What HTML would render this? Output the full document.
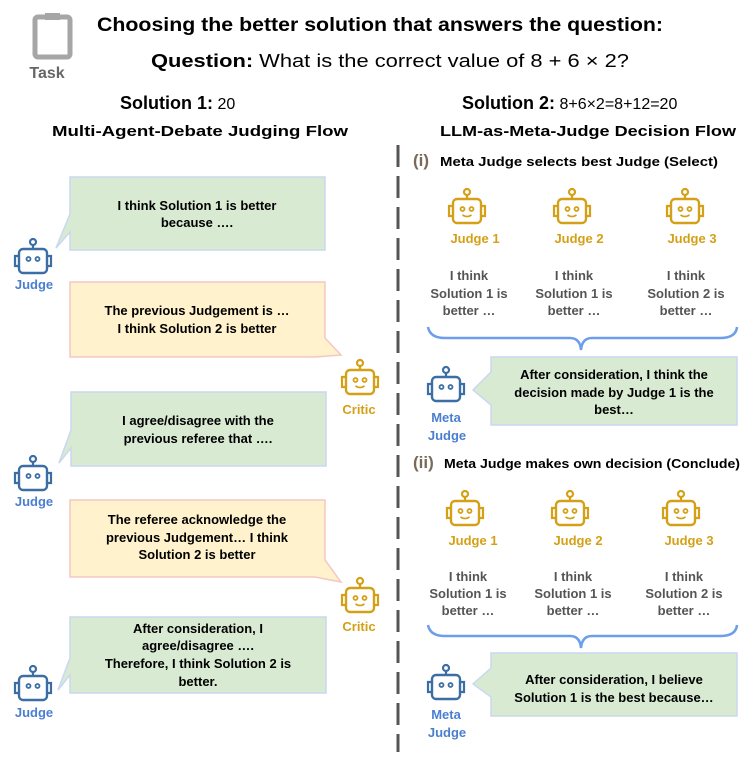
<!DOCTYPE html>
<html><head><meta charset="utf-8"><style>
html,body{margin:0;padding:0;background:#fff}
svg text{font-family:"Liberation Sans",sans-serif;font-weight:bold}
</style></head><body>
<svg width="753" height="754" viewBox="0 0 753 754" xmlns="http://www.w3.org/2000/svg">
<defs>
<g id="bot">
<circle cx="0" cy="-18" r="3" fill="none" stroke-width="2.2"/>
<line x1="0" y1="-15" x2="0" y2="-11" stroke-width="2.2"/>
<rect x="-14" y="-11" width="28" height="24" rx="4" fill="none" stroke-width="2.4"/>
<path d="M-14 -4 h-4 v10 h4 M14 -4 h4 v10 h-4" fill="none" stroke-width="2.2"/>
<circle cx="-4.5" cy="-1" r="2" fill="none" stroke-width="1.8"/>
<circle cx="4.5" cy="-1" r="2" fill="none" stroke-width="1.8"/>
</g>
<g id="botsmile">
<use href="#bot"/>
<path d="M-4.5 5 q4.5 3 9 0" fill="none" stroke-width="1.8"/>
</g>
</defs>
<!-- Task icon -->
<rect x="35" y="17" width="35" height="40" rx="3" fill="none" stroke="#a6a6a6" stroke-width="5"/>
<rect x="45" y="13" width="15" height="7" fill="#a6a6a6"/>
<text x="47" y="78" font-size="16" fill="#666" text-anchor="middle">Task</text>
<text x="97" y="31" font-size="19" fill="#000" textLength="566" lengthAdjust="spacingAndGlyphs">Choosing the better solution that answers the question:</text>
<text x="151" y="67" font-size="18" fill="#000" textLength="478" lengthAdjust="spacingAndGlyphs">Question:<tspan font-weight="normal"> What is the correct value of 8 + 6 × 2?</tspan></text>
<text x="120" y="109" font-size="18">Solution 1:<tspan font-weight="normal" font-size="16"> 20</tspan></text>
<text x="52" y="136" font-size="15" textLength="296" lengthAdjust="spacingAndGlyphs">Multi-Agent-Debate Judging Flow</text>
<text x="462" y="109" font-size="18">Solution 2:<tspan font-weight="normal" font-size="16"> 8+6×2=8+12=20</tspan></text>
<text x="440" y="136" font-size="15" textLength="296" lengthAdjust="spacingAndGlyphs">LLM-as-Meta-Judge Decision Flow</text>
<line x1="398" y1="145" x2="398" y2="752" stroke="#555" stroke-width="3" stroke-dasharray="22,9"/>

<!-- Left bubbles -->
<g stroke-width="1.5">
<path d="M70 177 H325 V250 H70 V232 L56 248 L70 214 Z" fill="#d9ead3" stroke="#c9d8ef"/>
<path d="M70 282 H325 V338 L341 355 L315 357 H70 Z" fill="#fff2cc" stroke="#f4c7c3"/>
<path d="M71 392 H326 V466 H71 V448 L59 463 L71 430 Z" fill="#d9ead3" stroke="#c9d8ef"/>
<path d="M70 500 H325 V560 L341 582 L315 577 H70 Z" fill="#fff2cc" stroke="#f4c7c3"/>
<path d="M70 617 H326 V693 H70 V675 L58 690 L70 658 Z" fill="#d9ead3" stroke="#c9d8ef"/>
</g>
<g font-size="13" text-anchor="middle" fill="#000">
<text x="197" y="210">I think Solution 1 is better</text><text x="197" y="227">because ….</text>
<text x="197" y="315">The previous Judgement is …</text><text x="197" y="333">I think Solution 2 is better</text>
<text x="198" y="425">I agree/disagree with the</text><text x="198" y="443">previous referee that ….</text>
<text x="197" y="524">The referee acknowledge the</text><text x="197" y="542">previous Judgement… I think</text><text x="197" y="559">Solution 2 is better</text>
<text x="198" y="633">After consideration, I</text><text x="198" y="650">agree/disagree ….</text><text x="198" y="668">Therefore, I think Solution 2 is</text><text x="198" y="686">better.</text>
</g>
<g stroke="#3b6ea5"><use href="#bot" x="33" y="260"/><use href="#bot" x="33" y="477"/><use href="#bot" x="33" y="687"/></g>
<g font-size="13" fill="#4a7fd0" text-anchor="middle"><text x="34" y="289">Judge</text><text x="34" y="506">Judge</text><text x="34" y="717">Judge</text></g>
<g stroke="#d4a017"><use href="#botsmile" x="360" y="381"/><use href="#botsmile" x="360" y="599"/></g>
<g font-size="13" fill="#d4a017" text-anchor="middle"><text x="359" y="414">Critic</text><text x="359" y="631">Critic</text></g>

<!-- Right section (i) -->
<text x="413" y="166" font-size="17" fill="#7a6a5a" font-weight="normal">(i)</text>
<text x="440" y="166" font-size="13" textLength="278" lengthAdjust="spacingAndGlyphs">Meta Judge selects best Judge (Select)</text>
<g stroke="#d4a017"><use href="#botsmile" x="467" y="210"/><use href="#botsmile" x="572" y="210"/><use href="#botsmile" x="685" y="210"/></g>
<g font-size="13" fill="#d4a017" text-anchor="middle"><text x="475" y="243">Judge 1</text><text x="579" y="243">Judge 2</text><text x="692" y="243">Judge 3</text></g>
<g font-size="13" fill="#555" text-anchor="middle">
<text x="469" y="280">I think</text><text x="469" y="298">Solution 1 is</text><text x="469" y="315">better …</text>
<text x="574" y="280">I think</text><text x="574" y="298">Solution 1 is</text><text x="574" y="315">better …</text>
<text x="686" y="280">I think</text><text x="686" y="298">Solution 2 is</text><text x="686" y="315">better …</text>
</g>
<path d="M428 327 Q430 338 445 338 H570 Q580 338 581 350 Q582 338 592 338 H720 Q736 338 737 327" fill="none" stroke="#6d9eeb" stroke-width="2.5"/>
<path d="M491 357 H737 V425 H491 V405 L473 390 L491 372 Z" fill="#d9ead3" stroke="#c9d8ef" stroke-width="1.5"/>
<g font-size="13" text-anchor="middle"><text x="614" y="379">After consideration, I think the</text><text x="614" y="397">decision made by Judge 1 is the</text><text x="614" y="414">best…</text></g>
<use href="#bot" x="446" y="388" stroke="#3b6ea5"/>
<g font-size="13" fill="#4a7fd0" text-anchor="middle"><text x="446" y="422">Meta</text><text x="447" y="440">Judge</text></g>

<!-- (ii) -->
<text x="413" y="468" font-size="17" fill="#7a6a5a" font-weight="normal">(ii)</text>
<text x="444" y="468" font-size="13" textLength="296" lengthAdjust="spacingAndGlyphs">Meta Judge makes own decision (Conclude)</text>
<g stroke="#d4a017"><use href="#botsmile" x="465" y="512"/><use href="#botsmile" x="570" y="512"/><use href="#botsmile" x="681" y="512"/></g>
<g font-size="13" fill="#d4a017" text-anchor="middle"><text x="473" y="545">Judge 1</text><text x="578" y="545">Judge 2</text><text x="689" y="545">Judge 3</text></g>
<g font-size="13" fill="#555" text-anchor="middle">
<text x="468" y="581">I think</text><text x="468" y="598">Solution 1 is</text><text x="468" y="615">better …</text>
<text x="573" y="581">I think</text><text x="573" y="598">Solution 1 is</text><text x="573" y="615">better …</text>
<text x="684" y="581">I think</text><text x="684" y="598">Solution 2 is</text><text x="684" y="615">better …</text>
</g>
<path d="M428 625 Q430 636 445 636 H570 Q580 636 581 648 Q582 636 592 636 H720 Q736 636 737 625" fill="none" stroke="#6d9eeb" stroke-width="2.5"/>
<path d="M491 653 H737 V716 H491 V697 L473 684 L491 668 Z" fill="#d9ead3" stroke="#c9d8ef" stroke-width="1.5"/>
<g font-size="13" text-anchor="middle"><text x="614" y="684">After consideration, I believe</text><text x="614" y="702">Solution 1 is the best because…</text></g>
<use href="#bot" x="446" y="686" stroke="#3b6ea5"/>
<g font-size="13" fill="#4a7fd0" text-anchor="middle"><text x="446" y="719">Meta</text><text x="447" y="737">Judge</text></g>
</svg>
</body></html>
